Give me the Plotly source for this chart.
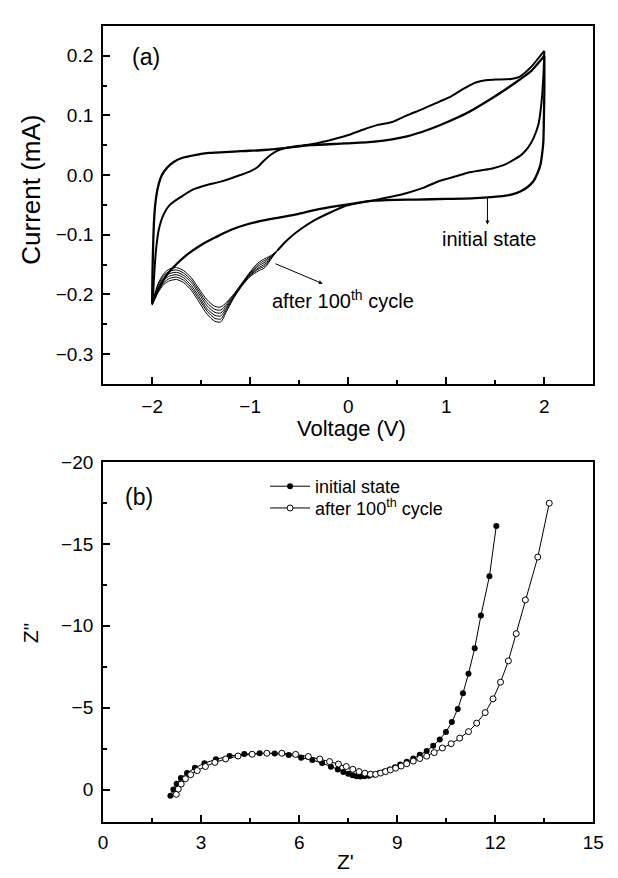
import plotly.graph_objects as go

# ---------------- (a) cyclic voltammetry data (V, mA) ----------------
# initial state: anodic sweep (-2 -> 2)
init_anodic_v = [-2.0, -1.997, -1.99, -1.98, -1.965, -1.94, -1.9, -1.85, -1.78, -1.69, -1.55, -1.42,
                 -1.1, -0.86, -0.6, -0.39, -0.03, 0.27, 0.6, 0.8, 1.0, 1.2, 1.4, 1.6, 1.75, 1.87, 1.95, 2.0]
init_anodic_i = [-0.215, -0.17, -0.12, -0.075, -0.045, -0.02, 0.0, 0.012, 0.022, 0.029, 0.034, 0.037,
                 0.040, 0.042, 0.046, 0.050, 0.053, 0.056, 0.065, 0.075, 0.088, 0.103, 0.122, 0.143, 0.160, 0.175, 0.19, 0.2]
# initial state: cathodic sweep (2 -> -2)
init_cathodic_v = [2.0, 2.0, 1.995, 1.99, 1.975, 1.96, 1.93, 1.89, 1.83, 1.76, 1.68, 1.59, 1.45, 1.26, 1.0,
                   0.7, 0.27, 0.0, -0.3, -0.53, -0.8, -1.02, -1.2, -1.35, -1.5, -1.65, -1.75, -1.85, -1.93, -2.0]
init_cathodic_i = [0.2, 0.14, 0.09, 0.056, 0.032, 0.017, 0.003, -0.010, -0.020, -0.027, -0.032, -0.035, -0.037,
                   -0.039, -0.040, -0.041, -0.043, -0.049, -0.057, -0.066, -0.074, -0.082, -0.092, -0.104,
                   -0.117, -0.134, -0.149, -0.167, -0.19, -0.215]

# after 100th cycle: anodic sweep
after_anodic_v = [-2.0, -1.99, -1.98, -1.96, -1.93, -1.88, -1.82, -1.7, -1.58, -1.45, -1.3, -1.1, -0.99,
                  -0.92, -0.86, -0.79, -0.72, -0.62, -0.5, -0.33, -0.15, 0.0, 0.15, 0.3, 0.45, 0.6, 0.75,
                  0.93, 1.04, 1.16, 1.3, 1.4, 1.5, 1.66, 1.75, 1.87, 1.95, 2.0]
after_anodic_i = [-0.215, -0.2, -0.17, -0.125, -0.09, -0.065, -0.05, -0.036, -0.024, -0.017, -0.011, 0.0,
                  0.007, 0.014, 0.024, 0.034, 0.041, 0.046, 0.049, 0.053, 0.060, 0.067, 0.076, 0.084, 0.089,
                  0.100, 0.110, 0.123, 0.131, 0.143, 0.155, 0.159, 0.160, 0.161, 0.165, 0.182, 0.198, 0.208]
# after 100th cycle: cathodic sweep, shared part (2 -> -0.72)
after_cathodic_v = [2.0, 1.99, 1.97, 1.94, 1.89, 1.83, 1.76, 1.69, 1.59, 1.47, 1.36, 1.22, 1.10, 0.93, 0.77,
                    0.60, 0.45, 0.27, 0.10, -0.05, -0.20, -0.36, -0.48, -0.59, -0.66, -0.72]
after_cathodic_i = [0.208, 0.165, 0.12, 0.085, 0.062, 0.045, 0.033, 0.026, 0.017, 0.011, 0.008, 0.004,
                    -0.002, -0.010, -0.021, -0.030, -0.036, -0.042, -0.047, -0.053, -0.064, -0.077, -0.090,
                    -0.104, -0.115, -0.126]
# after 100th cycle: cathodic peak region, one list per recorded cycle
peak_v = [-0.72, -0.78, -0.85, -0.92, -1.00, -1.08, -1.16, -1.24, -1.30, -1.36, -1.44, -1.52, -1.60,
          -1.68, -1.75, -1.82, -1.88, -1.94, -2.00]
peak_i_c1 = [-0.126, -0.134, -0.140, -0.147, -0.162, -0.180, -0.198, -0.213, -0.221, -0.220, -0.209, -0.191,
             -0.172, -0.160, -0.155, -0.157, -0.165, -0.182, -0.215]
peak_i_c2 = [-0.126, -0.135, -0.143, -0.150, -0.164, -0.181, -0.199, -0.216, -0.226, -0.225, -0.214, -0.195,
             -0.176, -0.164, -0.159, -0.161, -0.168, -0.185, -0.216]
peak_i_c3 = [-0.126, -0.136, -0.146, -0.153, -0.165, -0.182, -0.201, -0.219, -0.231, -0.230, -0.219, -0.199,
             -0.180, -0.168, -0.163, -0.165, -0.172, -0.188, -0.216]
peak_i_c4 = [-0.126, -0.137, -0.149, -0.156, -0.167, -0.183, -0.202, -0.222, -0.236, -0.235, -0.224, -0.204,
             -0.185, -0.172, -0.167, -0.169, -0.176, -0.191, -0.217]
peak_i_c5 = [-0.126, -0.138, -0.152, -0.158, -0.168, -0.184, -0.203, -0.225, -0.241, -0.240, -0.228, -0.208,
             -0.189, -0.176, -0.171, -0.173, -0.180, -0.194, -0.217]
peak_i_c6 = [-0.126, -0.139, -0.155, -0.161, -0.170, -0.185, -0.204, -0.228, -0.246, -0.245, -0.233, -0.213,
             -0.193, -0.180, -0.175, -0.177, -0.183, -0.197, -0.218]

cv_xticks = [-2, -1, 0, 1, 2]
cv_xminor = [-1.5, -0.5, 0.5, 1.5]
cv_yticks = [0.2, 0.1, 0.0, -0.1, -0.2, -0.3]
cv_yminor = [0.15, 0.05, -0.05, -0.15, -0.25]

# ---------------- (b) impedance data ----------------
eis_init_zre = [2.06, 2.15, 2.25, 2.38, 2.57, 2.81, 3.10, 3.45, 3.87, 4.32, 4.79, 5.25, 5.68, 6.06, 6.40,
                6.70, 6.97, 7.18, 7.35, 7.50, 7.63, 7.75, 7.87, 8.00, 8.14, 8.29, 8.45, 8.61, 8.77, 8.93,
                9.09, 9.29, 9.49, 9.69, 9.90, 10.10, 10.30, 10.49, 10.67, 10.85, 11.01, 11.18, 11.37, 11.56,
                11.82, 12.03]
eis_init_zim = [0.37, 0.0, -0.36, -0.71, -1.01, -1.33, -1.61, -1.85, -2.05, -2.17, -2.22, -2.20, -2.11,
                -1.95, -1.80, -1.62, -1.40, -1.22, -1.08, -0.96, -0.88, -0.82, -0.80, -0.81, -0.85, -0.92,
                -1.01, -1.11, -1.23, -1.37, -1.53, -1.70, -1.90, -2.12, -2.36, -2.68, -3.06, -3.52, -4.12,
                -4.92, -5.88, -7.08, -8.63, -10.63, -13.03, -16.1]
eis_after_zre = [2.24, 2.30, 2.39, 2.52, 2.68, 2.88, 3.13, 3.42, 3.75, 4.13, 4.56, 5.01, 5.47, 5.89, 6.28,
                 6.63, 6.93, 7.20, 7.44, 7.64, 7.83, 8.01, 8.18, 8.34, 8.49, 8.64, 8.79, 8.95, 9.12, 9.29,
                 9.49, 9.69, 9.90, 10.13, 10.38, 10.65, 10.91, 11.18, 11.43, 11.69, 11.93, 12.16, 12.40,
                 12.64, 12.92, 13.30, 13.65]
eis_after_zim = [0.29, -0.03, -0.34, -0.66, -0.91, -1.16, -1.41, -1.66, -1.87, -2.05, -2.16, -2.22, -2.22,
                 -2.15, -2.02, -1.87, -1.71, -1.56, -1.41, -1.24, -1.10, -1.00, -0.94, -0.93, -1.01, -1.10,
                 -1.20, -1.31, -1.44, -1.58, -1.74, -1.90, -2.04, -2.26, -2.54, -2.80, -3.14, -3.54, -4.06,
                 -4.70, -5.54, -6.56, -7.86, -9.52, -11.58, -14.2, -17.49]

eis_xticks = [0, 3, 6, 9, 12, 15]
eis_xminor = [1.5, 4.5, 7.5, 10.5, 13.5]
eis_yticks = [-20, -15, -10, -5, 0]
eis_yminor = [-17.5, -12.5, -7.5, -2.5]

# ---------------- figure ----------------
W, H = 618, 878
FONT = "Liberation Sans, Arial, Helvetica, sans-serif"


def px_x(p):
    return p / W


def px_y(p):
    return (H - p) / H


fig = go.Figure()


def cv_line(v, i, width):
    fig.add_trace(go.Scatter(x=v, y=i, mode="lines", xaxis="x", yaxis="y",
                             line=dict(color="black", width=width, shape="spline", smoothing=0.7),
                             showlegend=False, hoverinfo="skip"))


cv_line(init_anodic_v, init_anodic_i, 2.3)
cv_line(init_cathodic_v, init_cathodic_i, 2.3)
cv_line(after_anodic_v, after_anodic_i, 2.0)
cv_line(after_cathodic_v, after_cathodic_i, 2.0)
for cyc in [peak_i_c1, peak_i_c2, peak_i_c3, peak_i_c4, peak_i_c5, peak_i_c6]:
    cv_line(peak_v, cyc, 1.0)

fig.add_trace(go.Scatter(x=eis_init_zre, y=eis_init_zim, mode="lines+markers", xaxis="x2", yaxis="y2",
                         name="initial state", legend="legend",
                         line=dict(color="black", width=1),
                         marker=dict(symbol="circle", size=6, color="black")))
fig.add_trace(go.Scatter(x=eis_after_zre, y=eis_after_zim, mode="lines+markers", xaxis="x2", yaxis="y2",
                         name="after 100<sup>th</sup> cycle", legend="legend2",
                         line=dict(color="black", width=1),
                         marker=dict(symbol="circle", size=6, color="white",
                                     line=dict(color="black", width=1))))

xdom = [px_x(100.7), px_x(604)]
axis_common = dict(showline=True, linewidth=2, linecolor="black", mirror=True, showgrid=False,
                   zeroline=False, ticks="inside", ticklen=7, tickwidth=1.5, tickcolor="black",
                   tickfont=dict(family=FONT, size=19, color="black"))
minor_common = dict(ticks="inside", ticklen=4, tickwidth=1.5, tickcolor="black")

fig.update_layout(
    width=W, height=H, margin=dict(l=0, r=0, t=0, b=0),
    paper_bgcolor="white", plot_bgcolor="white",
    font=dict(family=FONT, color="black"),
    xaxis=dict(domain=xdom, anchor="y", range=[-2.5, 2.5], tickvals=cv_xticks,
               ticklabelstandoff=4, minor=dict(tickvals=cv_xminor, **minor_common), **axis_common),
    yaxis=dict(domain=[px_y(378.3), px_y(16)], anchor="x", range=[-0.35, 0.25], tickvals=cv_yticks,
               tickformat=".1f", ticklabelstandoff=4,
               minor=dict(tickvals=cv_yminor, **minor_common), **axis_common),
    xaxis2=dict(domain=xdom, anchor="y2", range=[0, 15], tickvals=eis_xticks, ticklabelstandoff=2,
                minor=dict(tickvals=eis_xminor, **minor_common), **axis_common),
    yaxis2=dict(domain=[px_y(821.7), px_y(457.3)], anchor="x2", range=[2, -20], tickvals=eis_yticks,
                ticklabelstandoff=4, minor=dict(tickvals=eis_yminor, **minor_common), **axis_common),
    legend=dict(x=px_x(267), xanchor="left", y=px_y(482), yanchor="middle",
                font=dict(family=FONT, size=18, color="black"), bgcolor="rgba(0,0,0,0)",
                borderwidth=0, itemwidth=40, tracegroupgap=0),
    legend2=dict(x=px_x(267), xanchor="left", y=px_y(504), yanchor="middle",
                 font=dict(family=FONT, size=18, color="black"), bgcolor="rgba(0,0,0,0)",
                 borderwidth=0, itemwidth=40, tracegroupgap=0),
)


def label(text, x, y, size, angle=0, xanchor="center"):
    return dict(text=text, x=px_x(x), y=px_y(y), xref="paper", yref="paper", showarrow=False,
                xanchor=xanchor, yanchor="middle", textangle=angle,
                font=dict(family=FONT, size=size, color="black"))


annotations = [
    label("(a)", 145, 47.5, 23),
    label("(b)", 137.5, 492.5, 23),
    label("initial state", 497, 232, 20),
    label("after 100<sup>th</sup> cycle", 272, 293, 20, xanchor="left"),
    label("Current (mA)", 26.5, 182, 26, angle=-90),
    label("Voltage (V)", 356, 423, 22),
    label("Z\"", 27, 630, 21, angle=-90),
    label("Z'", 350, 861, 21),
    dict(text="", x=1.42, y=-0.083, ax=1.42, ay=-0.036, xref="x", yref="y", axref="x", ayref="y",
         showarrow=True, arrowhead=2, arrowsize=0.8, arrowwidth=1, arrowcolor="black"),
    dict(text="", x=-0.26, y=-0.182, ax=-0.757, ay=-0.1475, xref="x", yref="y", axref="x", ayref="y",
         showarrow=True, arrowhead=2, arrowsize=0.8, arrowwidth=1, arrowcolor="black"),
]
fig.update_layout(annotations=annotations)

fig.write_html("out.html", config={"displayModeBar": False},
               post_script="document.body.style.margin='0px';document.body.style.overflow='hidden';")
